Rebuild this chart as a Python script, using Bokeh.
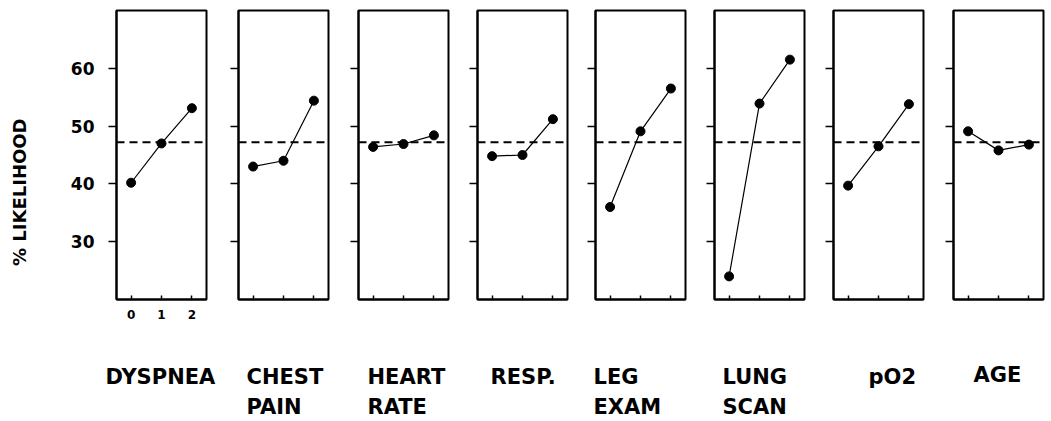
import math
from bokeh.plotting import figure
from bokeh.layouts import row, column
from bokeh.models import Span, FixedTicker, Range1d, ColumnDataSource
from bokeh.core.properties import value
from bokeh.embed import file_html
from bokeh.resources import INLINE

# ---- data ----
levels = [0, 1, 2]
names_line1 = ["DYSPNEA", "CHEST", "HEART", "RESP.", "LEG", "LUNG", "pO2", "AGE"]
names_line2 = ["", "PAIN", "RATE", "", "EXAM", "SCAN", "", ""]
y_title = "% LIKELIHOOD"
dyspnea = [40.2, 47.0, 53.1]
chest_pain = [43.0, 44.0, 54.4]
heart_rate = [46.4, 46.9, 48.4]
resp = [44.8, 45.0, 51.2]
leg_exam = [36.0, 49.1, 56.5]
lung_scan = [24.0, 53.9, 61.5]
po2 = [39.7, 46.5, 53.8]
age = [49.1, 45.8, 46.8]
series = [dyspnea, chest_pain, heart_rate, resp, leg_exam, lung_scan, po2, age]
baseline = 47.2
y_ticks = [30, 40, 50, 60]

# ---- layout (page pixels) ----
frame_left = [116, 238, 358, 477, 595, 714, 833, 953]
FRAME_W = 90
FRAME_H = 289
TOP_H = 326
TOTAL_W = 1046
LABEL_H = 421 - TOP_H
YLAB_W = 40
TOP = 10
INNER_LEFT = 20
label_dx = [-11, 8, 9, 13, -2, 8, 35, 20]       # px from frame left
label_dy = [0, 0, 0, 0, 0, 0, 0, -2]            # px relative to line 1
LINE1_Y = 376.5
LINE2_Y = 406.5
YTITLE_X = 19
YTITLE_Y = 205
FONT = "DejaVu Sans"

XR = (-0.48, 2.48)
YR = (20, 70)


def blank(w, h):
    f = figure(width=w, height=h, output_backend="svg", toolbar_location=None,
               x_range=Range1d(0, w), y_range=Range1d(h, 0),
               min_border=0, min_border_left=0, min_border_right=0,
               min_border_top=0, min_border_bottom=0,
               background_fill_color="white", border_fill_color="white")
    f.axis.visible = False
    f.grid.visible = False
    f.outline_line_color = None
    return f


# ---- y-axis title strip ----
ylab = blank(YLAB_W, TOP_H)
ylab.text(x=[YTITLE_X], y=[YTITLE_Y], text=[y_title], angle=math.pi / 2,
          text_font=value(FONT), text_font_style="bold", text_font_size="18px",
          text_color="black", text_align="center", text_baseline="middle")

figs = [ylab]
n = len(series)
for i in range(n):
    start = YLAB_W if i == 0 else frame_left[i] - INNER_LEFT
    end = frame_left[i + 1] - INNER_LEFT if i < n - 1 else TOTAL_W
    left_b = frame_left[i] - start
    right_b = (end - start) - left_b - FRAME_W
    p = figure(width=end - start, height=TOP_H, output_backend="svg",
               toolbar_location=None, x_range=Range1d(*XR), y_range=Range1d(*YR),
               min_border_left=left_b, min_border_right=right_b,
               min_border_top=TOP, min_border_bottom=TOP_H - TOP - FRAME_H,
               background_fill_color="white", border_fill_color="white")
    p.grid.visible = False
    p.outline_line_color = "black"
    p.outline_line_width = 2
    p.outline_line_alpha = 1

    yax = p.yaxis[0]
    yax.ticker = FixedTicker(ticks=y_ticks)
    yax.minor_tick_line_color = None
    yax.major_tick_in = 0
    yax.major_tick_out = 8
    yax.major_tick_line_width = 1.5
    yax.axis_line_width = 2
    xax = p.xaxis[0]
    xax.ticker = FixedTicker(ticks=levels)
    xax.minor_tick_line_color = None
    xax.major_tick_in = 4
    xax.major_tick_out = 0
    xax.major_tick_line_width = 1.5
    xax.axis_line_width = 2
    if i == 0:
        xax.major_label_text_font = FONT
        xax.major_label_text_font_style = "bold"
        xax.major_label_text_font_size = "12px"
        xax.major_label_text_color = "black"
        xax.major_label_standoff = 10
        yax.major_label_text_font = FONT
        yax.major_label_text_font_style = "bold"
        yax.major_label_text_font_size = "17px"
        yax.major_label_text_color = "black"
        yax.major_label_standoff = 14
    else:
        yax.major_label_text_font_size = "0px"
        yax.major_label_text_color = None
        xax.major_label_text_font_size = "0px"
        xax.major_label_text_color = None

    p.add_layout(Span(location=baseline, dimension="width", line_color="black",
                      line_width=2, line_dash="8 5"))
    p.line(levels, series[i], line_color="black", line_width=1.2)
    p.scatter(levels, series[i], size=9, fill_color="black", line_color="black")
    figs.append(p)

# ---- category names underneath ----
lab = blank(TOTAL_W, LABEL_H)
xs, ys, txt = [], [], []
for i in range(n):
    x0 = frame_left[i] + label_dx[i]
    xs.append(x0); ys.append(LINE1_Y - TOP_H + label_dy[i]); txt.append(names_line1[i])
    if names_line2[i]:
        xs.append(x0); ys.append(LINE2_Y - TOP_H); txt.append(names_line2[i])
src = ColumnDataSource(dict(x=xs, y=ys, text=txt))
lab.text(x="x", y="y", text="text", source=src, text_font=value(FONT),
         text_font_style="bold", text_font_size="21px", text_color="black",
         text_align="left", text_baseline="middle")

layout = column(row(*figs, spacing=0), lab, spacing=0)
open("out.html", "w").write(file_html(layout, INLINE))
